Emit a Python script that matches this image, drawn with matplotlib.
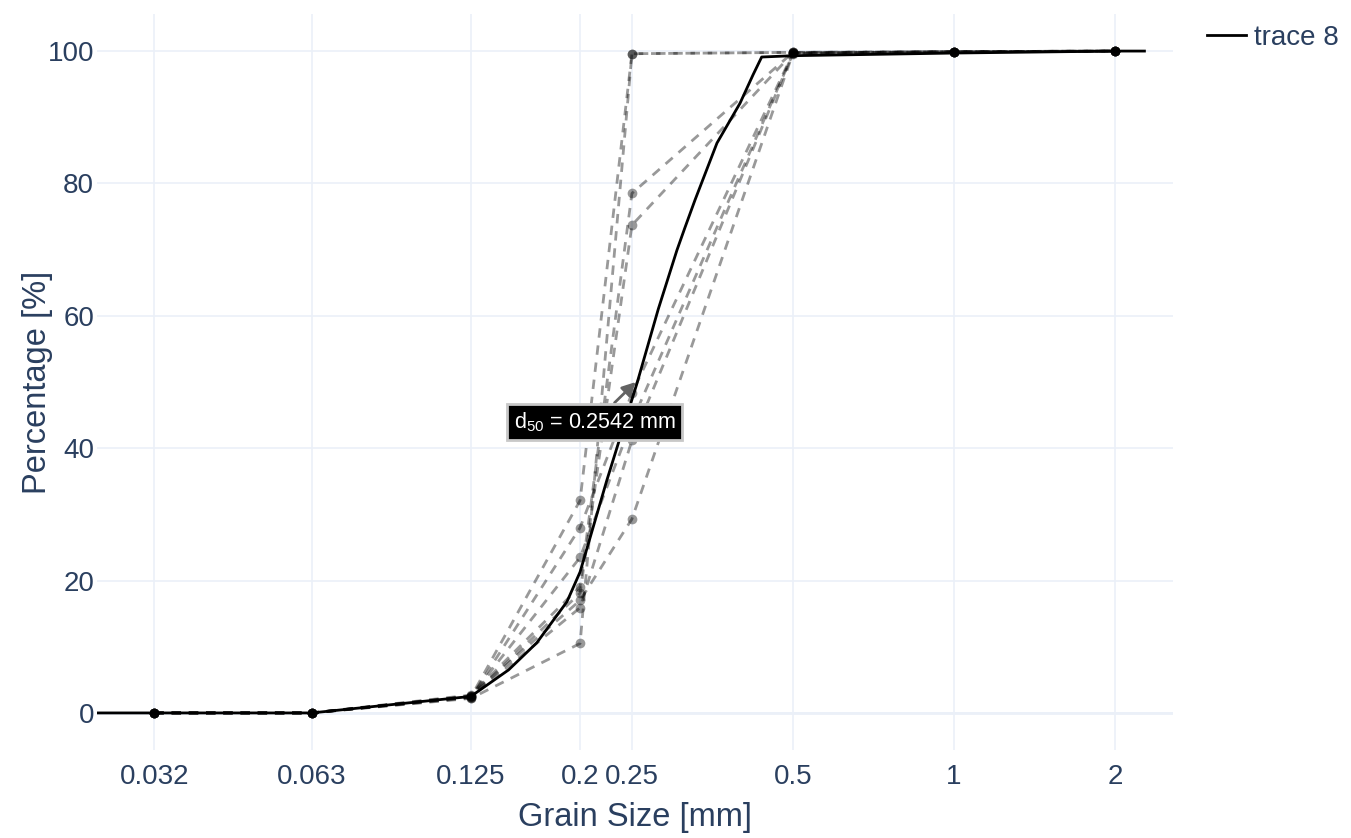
import matplotlib
matplotlib.use("Agg")
import matplotlib.pyplot as plt

plt.rcParams['font.family'] = ['Liberation Sans', 'DejaVu Sans']
plt.rcParams['mathtext.fontset'] = 'custom'
plt.rcParams['mathtext.rm'] = 'Liberation Sans'
plt.rcParams['mathtext.it'] = 'Liberation Sans'

# 筛分粒径 (mm)
sieve = [0.032, 0.063, 0.125, 0.2, 0.25, 0.5, 1, 2]
tick_vals = [0.032, 0.063, 0.125, 0.2, 0.25, 0.5, 1, 2]
tick_text = ['0.032', '0.063', '0.125', '0.2', '0.25', '0.5', '1', '2']

# 各样品累计通过百分比
s1 = [0, 0, 2.4, 32.1, 99.6, 99.8, 99.9, 100]
s2 = [0, 0, 2.2, 10.5, 99.6, 99.8, 99.9, 100]
s3 = [0, 0, 2.6, 17.0, 29.3, 99.7, 99.9, 100]
s4 = [0, 0, 2.5, 18.1, 73.7, 99.7, 99.9, 100]
s5 = [0, 0, 2.7, 19.1, 78.5, 99.8, 99.9, 100]
s6 = [0, 0, 2.3, 28.0, 48.3, 99.7, 99.9, 100]
s7 = [0, 0, 2.5, 23.5, 44.0, 99.6, 99.9, 100]
s8 = [0, 0, 2.4, 15.9, 41.2, 99.7, 99.9, 100]
samples = [s1, s2, s3, s4, s5, s6, s7, s8]

# trace 8 (平均曲线)
mean_x = [0.025, 0.032, 0.063, 0.125, 0.147, 0.166, 0.189, 0.2, 0.2245, 0.2555,
          0.28, 0.3034, 0.314, 0.328, 0.3605, 0.398, 0.421, 0.437, 0.5, 1, 2, 2.27]
mean_y = [0, 0, 0, 2.5, 6.5, 10.6, 16.8, 21.3, 35.2, 49.8,
          61, 69.9, 73.3, 77.5, 86.1, 92.1, 96.4, 99.1, 99.3, 99.7, 100, 100]

d50 = 0.2542
txt = '#2a3f5f'
grid = '#ebf0f8'

fig = plt.figure(figsize=(13.51, 8.38), dpi=100)
ax = fig.add_axes([97/1351, 1-750/838, (1173-97)/1351, (750-14)/838])

for s in samples:
    ax.plot(sieve, s, color='black', alpha=0.4, lw=2.0, marker='o', ms=7,
            mew=0, dashes=(3.4, 2.8), solid_capstyle='butt', zorder=3)

line8, = ax.plot(mean_x, mean_y, color='black', lw=2.0, zorder=4, label='trace 8')

ax.set_xscale('log')
ax.set_xlim(0.025, 2.567)
ax.set_ylim(-5.6, 105.6)
ax.set_xticks(tick_vals)
ax.set_xticklabels(tick_text)
ax.minorticks_off()
ax.set_yticks([0, 20, 40, 60, 80, 100])
ax.tick_params(length=0, labelsize=20, colors=txt)
ax.tick_params(axis='y', pad=2)
ax.tick_params(axis='x', pad=10)
ax.grid(True, color=grid, lw=1.2, zorder=0)
ax.axhline(0, color=grid, lw=2, zorder=1)
for sp in ax.spines.values():
    sp.set_visible(False)

ax.set_xlabel('Grain Size [mm]', fontsize=23.5, color=txt, labelpad=9)
fig.text(38/1351, 1-382/838, 'Percentage [%]', rotation=90, ha='center',
         va='center', fontsize=23.5, color=txt)

ax.annotate('d$_{50}$ = 0.2542 mm', xy=(d50, 50), xytext=(-41, -40),
            textcoords='offset pixels', ha='center', va='center',
            color='white', fontsize=15.5,
            bbox=dict(boxstyle='square,pad=0.3', fc='black', ec='#c8c8c8', lw=2),
            arrowprops=dict(arrowstyle='-|>', color='#636363', lw=2,
                            mutation_scale=20, shrinkA=0, shrinkB=0),
            zorder=6)

fig.legend(handles=[line8], loc='upper left', bbox_to_anchor=(1196/1351, 1-14/838),
           frameon=False, fontsize=20, labelcolor=txt, handlelength=1.4,
           handletextpad=0.3, borderaxespad=0)

fig.savefig('out.png', dpi=100, facecolor='white')
